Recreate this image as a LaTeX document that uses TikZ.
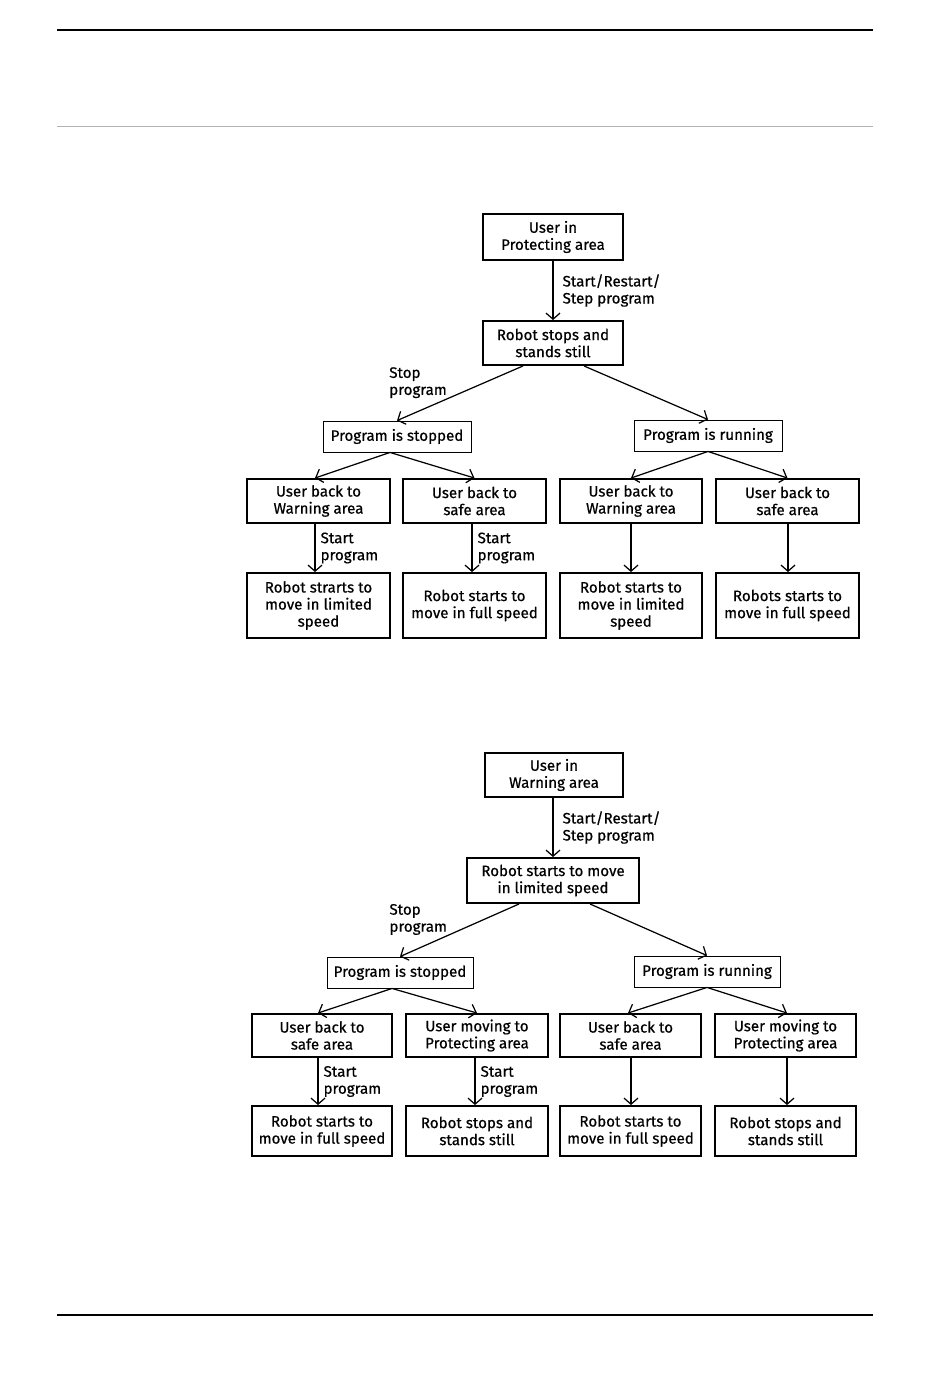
\documentclass[tikz,border=0pt]{standalone}
\usepackage{fontspec}
\setmainfont{Fira Sans}[UprightFeatures={FakeBold=0.6}]
\usetikzlibrary{arrows.meta}

\begin{document}
\begin{tikzpicture}[x=0.02cm, y=-0.02cm,
    font=\fontsize{8.6}{9.7}\selectfont,
    box/.style={draw, line width=1.1pt, align=center, inner sep=0pt},
    sbox/.style={draw, line width=0.5pt, align=center, inner sep=0pt,
                 minimum height=0.62cm},
    arr/.style={-{Straight Barb[length=3.5pt,width=8pt]}, line width=0.7pt},
    lbl/.style={align=left, inner sep=0pt}]
    \useasboundingbox (0,0) rectangle (950,1378);

    % Page rules
    \draw[line width=1.1pt] (57,30) -- (873,30);
    \draw[gray!60, line width=0.5pt] (57,126) -- (873,126);
    \draw[line width=0.8pt] (57,1315) -- (873,1315);

    % Upper chart
    \node[box, minimum width=2.8cm, minimum height=0.92cm] (a1) at (553,237) {User in\\Protecting area};
    \node[box, minimum width=2.8cm, minimum height=0.88cm] (b1) at (553,343) {Robot stops and\\stands still};
    \node[sbox, minimum width=2.96cm] (c1) at (397,436.5) {Program is stopped};
    \node[sbox, minimum width=2.96cm] (c2) at (708,435.5) {Program is running};

    \node[box, minimum width=2.86cm, minimum height=0.88cm] (d1) at (318.5,501) {User back to\\Warning area};
    \node[box, minimum width=2.86cm, minimum height=0.88cm] (d2) at (474.5,501) {User back to\\safe area};
    \node[box, minimum width=2.84cm, minimum height=0.88cm] (d3) at (631,501) {User back to\\Warning area};
    \node[box, minimum width=2.86cm, minimum height=0.88cm] (d4) at (787.5,501) {User back to\\safe area};

    \node[box, minimum width=2.86cm, minimum height=1.3cm] (e1) at (318.5,605.5) {Robot strarts to\\move in limited\\speed};
    \node[box, minimum width=2.86cm, minimum height=1.3cm] (e2) at (474.5,605.5) {Robot starts to\\move in full speed};
    \node[box, minimum width=2.84cm, minimum height=1.3cm] (e3) at (631,605.5) {Robot starts to\\move in limited\\speed};
    \node[box, minimum width=2.86cm, minimum height=1.3cm] (e4) at (787.5,605.5) {Robots starts to\\move in full speed};

    \draw[arr] (a1) -- node[lbl, right=0.18cm] {Start/Restart/\\Step program} (b1);
    \draw[arr] ([xshift=-0.6cm]b1.south) -- node[lbl, pos=0.6, anchor=south east] {Stop\\program} (c1.north);
    \draw[arr] ([xshift=0.62cm]b1.south) -- (c2.north);
    \draw[arr] ([xshift=-0.14cm]c1.south) -- ([xshift=-0.07cm]d1.north);
    \draw[arr] ([xshift=-0.14cm]c1.south) -- (d2.north);
    \draw[arr] (c2.south) -- (d3.north);
    \draw[arr] (c2.south) -- (d4.north);
    \draw[arr] ([xshift=-0.07cm]d1.south) -- node[lbl, right=0.1cm] {Start\\program} ([xshift=-0.07cm]e1.north);
    \draw[arr] ([xshift=-0.05cm]d2.south) -- node[lbl, right=0.1cm] {Start\\program} ([xshift=-0.05cm]e2.north);
    \draw[arr] (d3) -- (e3);
    \draw[arr] ([xshift=0.01cm]d4.south) -- ([xshift=0.01cm]e4.north);

    % Lower chart
    \node[box, minimum width=2.76cm, minimum height=0.88cm] (a2) at (554,775) {User in\\Warning area};
    \node[box, minimum width=3.44cm, minimum height=0.9cm] (b2) at (553,880.5) {Robot starts to move\\in limited speed};
    \node[sbox, minimum width=2.92cm] (c3) at (400,972.5) {Program is stopped};
    \node[sbox, minimum width=2.92cm] (c4) at (707,971.5) {Program is running};

    \node[box, minimum width=2.8cm, minimum height=0.86cm] (d5) at (322,1035.5) {User back to\\safe area};
    \node[box, minimum width=2.84cm, minimum height=0.86cm] (d6) at (477,1035.5) {User moving to\\Protecting area};
    \node[box, minimum width=2.82cm, minimum height=0.86cm] (d7) at (630.5,1035.5) {User back to\\safe area};
    \node[box, minimum width=2.82cm, minimum height=0.86cm] (d8) at (785.5,1035.5) {User moving to\\Protecting area};

    \node[box, minimum width=2.8cm, minimum height=1.0cm] (e5) at (322,1131) {Robot starts to\\move in full speed};
    \node[box, minimum width=2.84cm, minimum height=1.0cm] (e6) at (477,1131) {Robot stops and\\stands still};
    \node[box, minimum width=2.82cm, minimum height=1.0cm] (e7) at (630.5,1131) {Robot starts to\\move in full speed};
    \node[box, minimum width=2.82cm, minimum height=1.0cm] (e8) at (785.5,1131) {Robot stops and\\stands still};

    \draw[arr] (a2.south -| b2) -- node[lbl, right=0.18cm] {Start/Restart/\\Step program} (b2);
    \draw[arr] ([xshift=-0.68cm]b2.south) -- node[lbl, pos=0.6, anchor=south east] {Stop\\program} (c3.north);
    \draw[arr] ([xshift=0.74cm]b2.south) -- (c4.north);
    \draw[arr] ([xshift=-0.16cm]c3.south) -- ([xshift=-0.08cm]d5.north);
    \draw[arr] ([xshift=-0.16cm]c3.south) -- (d6.north);
    \draw[arr] (c4.south) -- ([xshift=-0.05cm]d7.north);
    \draw[arr] (c4.south) -- ([xshift=0.03cm]d8.north);
    \draw[arr] ([xshift=-0.08cm]d5.south) -- node[lbl, right=0.1cm] {Start\\program} ([xshift=-0.08cm]e5.north);
    \draw[arr] ([xshift=-0.04cm]d6.south) -- node[lbl, right=0.1cm] {Start\\program} ([xshift=-0.04cm]e6.north);
    \draw[arr] ([xshift=0.01cm]d7.south) -- ([xshift=0.01cm]e7.north);
    \draw[arr] ([xshift=0.03cm]d8.south) -- ([xshift=0.03cm]e8.north);
\end{tikzpicture}
\end{document}
